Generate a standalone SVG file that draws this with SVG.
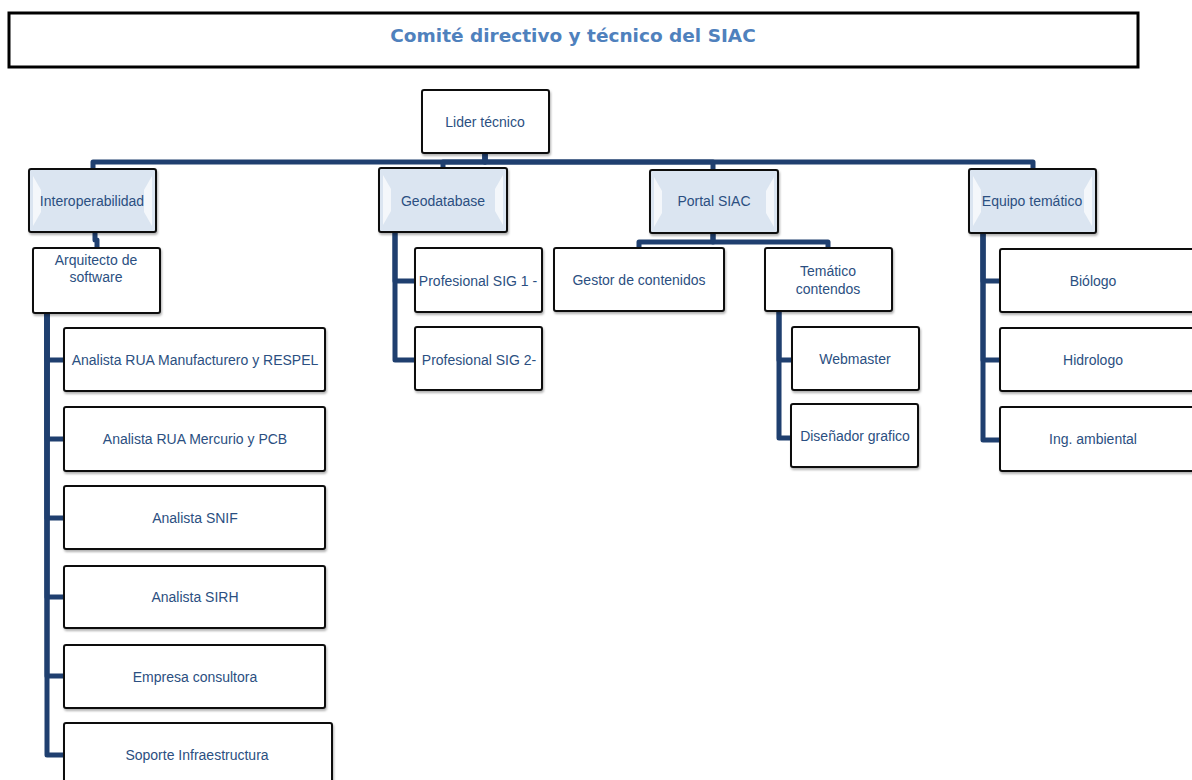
<svg xmlns="http://www.w3.org/2000/svg" width="1192" height="780" viewBox="0 0 1192 780">
<style>
.box{fill:#fff;stroke:#111;stroke-width:2;filter:url(#sh)}
.lvl{fill:#dbe5f1;stroke:#111;stroke-width:2;filter:url(#sh)}
.bev{fill:#ffffff;opacity:0.7}
.t{font-family:"Liberation Sans",Arial,sans-serif;font-size:14px;fill:#2b4f81;text-anchor:middle;dominant-baseline:central}
.c{fill:none;stroke:#1f3f6f;stroke-width:5;stroke-linejoin:round}
</style>
<defs>
<filter id="sh" x="-10%" y="-10%" width="130%" height="140%">
<feDropShadow dx="1" dy="2" stdDeviation="1.3" flood-color="#000" flood-opacity="0.3"/>
</filter>
</defs>
<rect width="1192" height="780" fill="#fff"/>

<g id="title">
<rect x="9" y="13" width="1129" height="54" fill="#fff" stroke="#000" stroke-width="3"/>
<text x="573" y="35" font-family="'DejaVu Sans',Verdana,sans-serif" font-size="18.5" font-weight="bold" fill="#4f81bd" text-anchor="middle" dominant-baseline="central">Comité directivo y técnico del SIAC</text>
</g>

<g id="connectors">
<path class="c" d="M485,153 V162 H93 V169"/>
<path class="c" d="M485,153 V162 H443 V168"/>
<path class="c" d="M485,153 V162 H713 V171"/>
<path class="c" d="M485,153 V162 H1033 V169"/>
<path class="c" d="M95,232 V240 H97 V248"/>
<path class="c" d="M47,313 V360 H64"/>
<path class="c" d="M47,313 V439 H64"/>
<path class="c" d="M47,313 V518 H64"/>
<path class="c" d="M47,313 V597 H64"/>
<path class="c" d="M47,313 V676 H64"/>
<path class="c" d="M47,313 V755 H64"/>
<path class="c" d="M395,232 V281 H415"/>
<path class="c" d="M395,232 V360 H415"/>
<path class="c" d="M713,233 V242 H639 V248"/>
<path class="c" d="M713,233 V242 H828 V248"/>
<path class="c" d="M779,311 V360 H792"/>
<path class="c" d="M779,311 V438 H791"/>
<path class="c" d="M983,233 V281 H1000"/>
<path class="c" d="M983,233 V360 H1000"/>
<path class="c" d="M983,233 V440 H1000"/>
</g>

<g id="lider">
<rect class="box" x="422" y="90" width="127" height="63" rx="2"/>
<text class="t" x="485" y="122">Lider técnico</text>
</g>

<g id="interoperabilidad">
<rect class="lvl" x="29" y="169" width="127" height="63" rx="2"/>
<polygon class="bev" points="33,176 41,190 41,212 33,226"/>
<polygon class="bev" points="152,176 144,190 144,212 152,226"/>
<text class="t" x="92" y="201">Interoperabilidad</text>
</g>

<g id="geodatabase">
<rect class="lvl" x="379" y="168" width="128" height="64" rx="2"/>
<polygon class="bev" points="383,175 391,189 391,211 383,225"/>
<polygon class="bev" points="503,175 495,189 495,211 503,225"/>
<text class="t" x="443" y="201">Geodatabase</text>
</g>

<g id="portal">
<rect class="lvl" x="650" y="170" width="128" height="63" rx="2"/>
<polygon class="bev" points="654,177 662,191 662,213 654,227"/>
<polygon class="bev" points="774,177 766,191 766,213 774,227"/>
<text class="t" x="714" y="201">Portal SIAC</text>
</g>

<g id="equipo">
<rect class="lvl" x="969" y="169" width="127" height="64" rx="2"/>
<polygon class="bev" points="973,176 981,190 981,212 973,226"/>
<polygon class="bev" points="1092,176 1084,190 1084,212 1092,226"/>
<text class="t" x="1032" y="201">Equipo temático</text>
</g>

<g id="arquitecto">
<rect class="box" x="33" y="248" width="127" height="65" rx="2"/>
<text class="t" x="96" y="260">Arquitecto de</text>
<text class="t" x="96" y="277">software</text>
</g>

<g id="analista-rua-manu">
<rect class="box" x="64" y="328" width="261" height="63" rx="2"/>
<text class="t" x="195" y="360">Analista RUA Manufacturero y RESPEL</text>
</g>
<g id="analista-rua-merc">
<rect class="box" x="64" y="407" width="261" height="64" rx="2"/>
<text class="t" x="195" y="439">Analista RUA Mercurio y PCB</text>
</g>
<g id="analista-snif">
<rect class="box" x="64" y="486" width="261" height="63" rx="2"/>
<text class="t" x="195" y="518">Analista SNIF</text>
</g>
<g id="analista-sirh">
<rect class="box" x="64" y="566" width="261" height="62" rx="2"/>
<text class="t" x="195" y="597">Analista SIRH</text>
</g>
<g id="empresa">
<rect class="box" x="64" y="645" width="261" height="63" rx="2"/>
<text class="t" x="195" y="677">Empresa consultora</text>
</g>
<g id="soporte">
<rect class="box" x="64" y="723" width="268" height="66" rx="2"/>
<text class="t" x="197" y="755">Soporte Infraestructura</text>
</g>

<g id="sig1">
<rect class="box" x="415" y="248" width="127" height="64" rx="2"/>
<text class="t" x="478" y="281">Profesional SIG 1 -</text>
</g>
<g id="sig2">
<rect class="box" x="415" y="327" width="127" height="63" rx="2"/>
<text class="t" x="479" y="360">Profesional SIG 2-</text>
</g>

<g id="gestor">
<rect class="box" x="554" y="248" width="170" height="63" rx="2"/>
<text class="t" x="639" y="280">Gestor de contenidos</text>
</g>
<g id="tematico">
<rect class="box" x="765" y="248" width="127" height="63" rx="2"/>
<text class="t" x="828" y="271">Temático</text>
<text class="t" x="828" y="289">contendos</text>
</g>
<g id="webmaster">
<rect class="box" x="792" y="327" width="127" height="63" rx="2"/>
<text class="t" x="855" y="359">Webmaster</text>
</g>
<g id="disenador">
<rect class="box" x="791" y="404" width="127" height="63" rx="2"/>
<text class="t" x="855" y="436">Diseñador grafico</text>
</g>

<g id="biologo">
<rect class="box" x="1000" y="249" width="200" height="63" rx="2"/>
<text class="t" x="1093" y="281">Biólogo</text>
</g>
<g id="hidrologo">
<rect class="box" x="1000" y="328" width="200" height="63" rx="2"/>
<text class="t" x="1093" y="360">Hidrologo</text>
</g>
<g id="ing">
<rect class="box" x="1000" y="407" width="200" height="64" rx="2"/>
<text class="t" x="1093" y="439">Ing. ambiental</text>
</g>
</svg>
